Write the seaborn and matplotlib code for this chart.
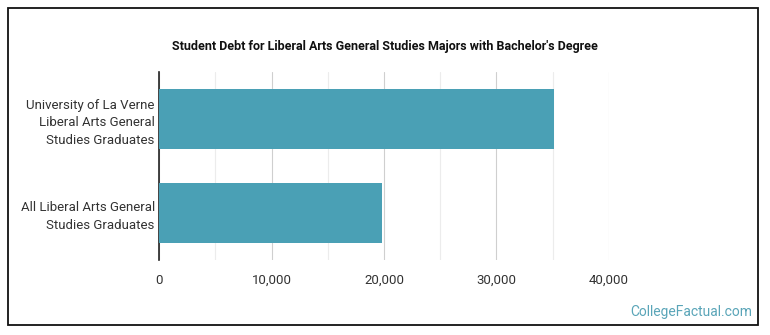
import matplotlib.pyplot as plt
import matplotlib.patches as patches
from matplotlib.ticker import MultipleLocator, FuncFormatter
import seaborn as sns
import pandas as pd

categories = [
    "University of La Verne\nLiberal Arts General\nStudies Graduates",
    "All Liberal Arts General\nStudies Graduates",
]
debt = [35100, 19800]

df = pd.DataFrame({"group": categories, "debt": debt})

sns.set_theme(style="white")
plt.rcParams['font.family'] = ['Roboto', 'DejaVu Sans']

fig = plt.figure(figsize=(7.7, 3.35), dpi=100)
ax = fig.add_axes([0.2065, 0.224, 0.5844, 0.561])

sns.barplot(data=df, x="debt", y="group", color="#4aa0b5", saturation=1,
            width=0.64, ax=ax, zorder=3, linewidth=0)

ax.set_xlim(0, 40000)
ax.set_ylim(1.5, -0.5)
ax.xaxis.set_major_locator(MultipleLocator(10000))
ax.xaxis.set_minor_locator(MultipleLocator(5000))
ax.xaxis.set_major_formatter(FuncFormatter(lambda v, p: f"{int(v):,}"))
ax.grid(axis="x", which="major", color="#cfcfcf", linewidth=0.8, zorder=0)
ax.grid(axis="x", which="minor", color="#ececec", linewidth=0.8, zorder=0)
ax.set_axisbelow(True)

for s in ["top", "right", "bottom"]:
    ax.spines[s].set_visible(False)
ax.spines["left"].set_color("#222222")
ax.spines["left"].set_linewidth(1.2)
ax.tick_params(axis="both", which="both", length=0, labelsize=9.5,
               labelcolor="#333333")
ax.tick_params(axis="x", pad=10)
ax.tick_params(axis="y", pad=3)
for lbl in ax.get_yticklabels():
    lbl.set_linespacing(1.45)
ax.set_xlabel("")
ax.set_ylabel("")

fig.text(0.5, 0.862, "Student Debt for Liberal Arts General Studies Majors with Bachelor's Degree",
         ha="center", va="center", fontsize=9, fontweight="bold", color="#111111")
fig.text(0.977, 0.068, "CollegeFactual.com", ha="right", va="center",
         fontsize=10, color="#5aa5b8")

border = patches.Rectangle((8 / 770, 10 / 335), 750 / 770, 317 / 335,
                           transform=fig.transFigure, fill=False,
                           edgecolor="#111111", linewidth=1.3)
fig.add_artist(border)

fig.savefig("out.png", dpi=100)
